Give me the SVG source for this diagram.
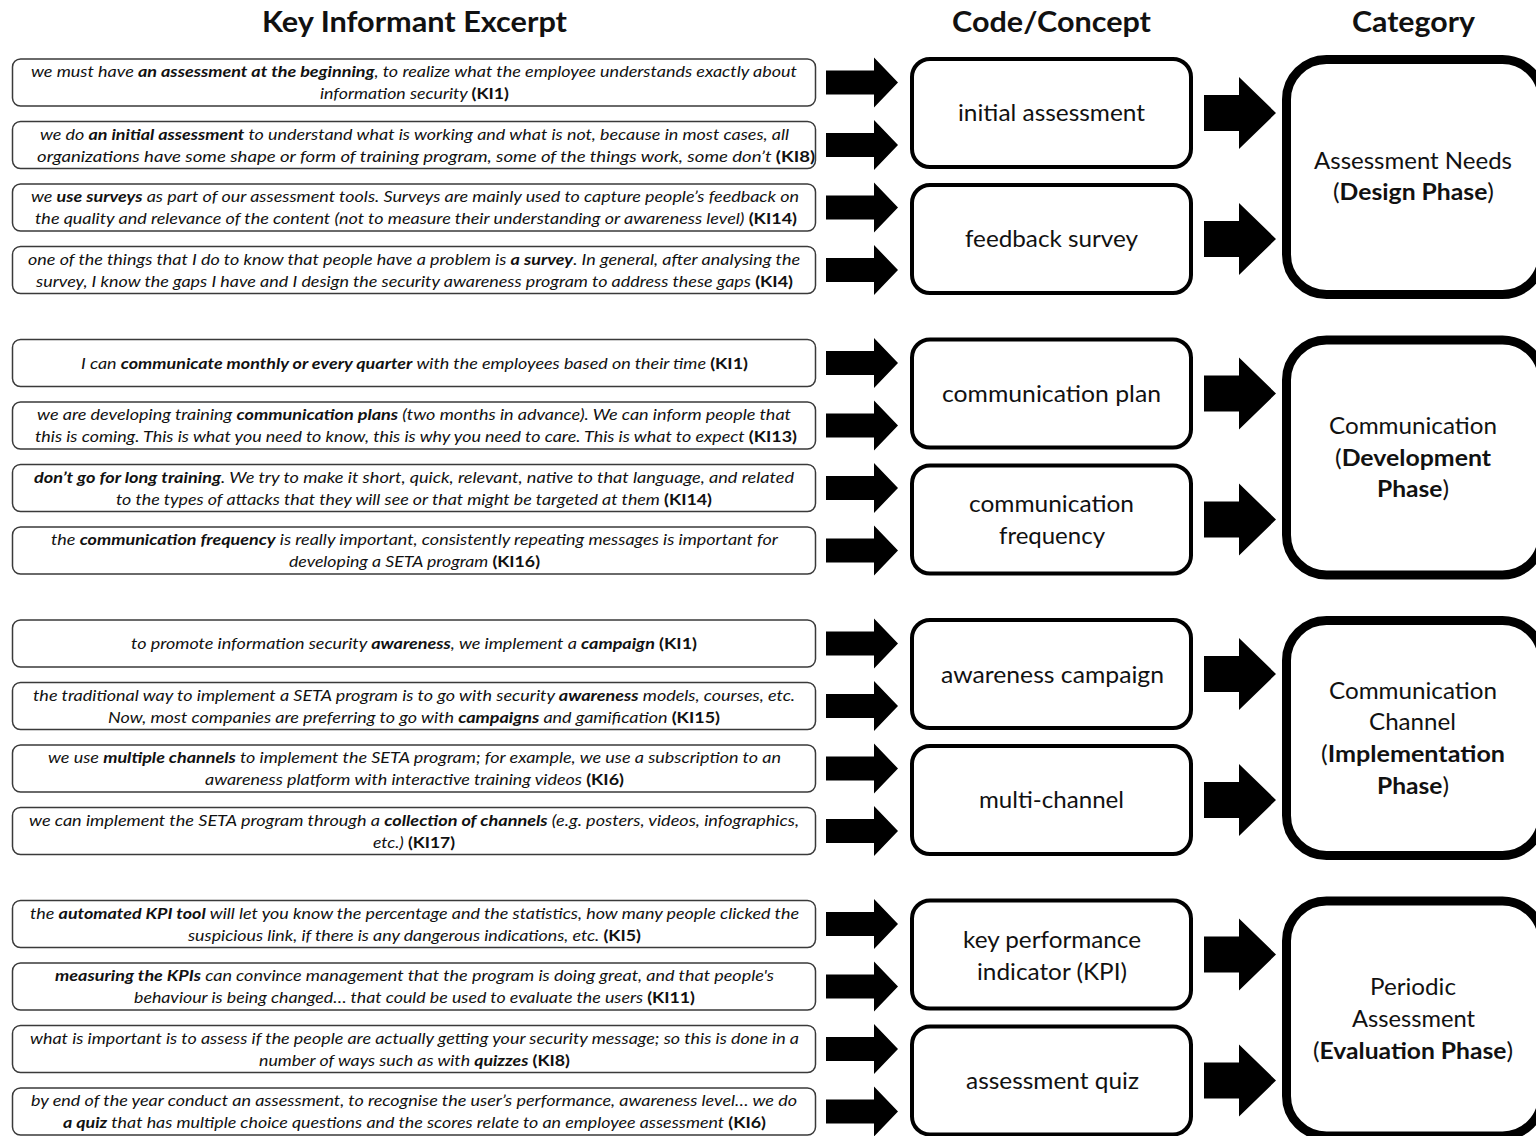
<svg xmlns="http://www.w3.org/2000/svg" width="1536" height="1136" viewBox="0 0 1536 1136">
<style>
text{font-family:Lato,"Open Sans","Liberation Sans",sans-serif;fill:#111}
.h{font-size:29px;font-weight:bold}
.ex{font-size:16px;font-style:italic}
.b{font-weight:bold}
.k{font-weight:bold;font-style:normal}
.cd{font-size:23px}
.ct{font-size:23px}
.ebox{fill:#fff;stroke:#3a3a3a;stroke-width:1.5}
.cbox{fill:#fff;stroke:#000;stroke-width:4}
.gbox{fill:#fff;stroke:#000;stroke-width:9}
.arr{fill:#000}
</style>
<defs>
<path id="sa" d="M -72 -12 H -24 V -25 L 0 0 L -24 25 V 12 H -72 Z"/>
<path id="ba" d="M -72 -18 H -37 V -36 L 0 0 L -37 36 V 18 H -72 Z"/>
</defs>
<rect width="1536" height="1136" fill="#fff"/>
<g id="headers">
<text class="h" x="262" y="32" textLength="305" lengthAdjust="spacingAndGlyphs">Key Informant Excerpt</text>
<text class="h" x="952" y="32" textLength="199" lengthAdjust="spacingAndGlyphs">Code/Concept</text>
<text class="h" x="1352" y="32" textLength="123" lengthAdjust="spacingAndGlyphs">Category</text>
</g>

<!-- Group 1 excerpts -->
<g id="ex1">
<rect class="ebox" x="12.5" y="59" width="803" height="47" rx="8"/>
<text class="ex" x="31" y="77" textLength="766" lengthAdjust="spacingAndGlyphs">we must have <tspan class="b">an assessment at the beginning</tspan>, to realize what the employee understands exactly about</text>
<text class="ex" x="320" y="99" textLength="189" lengthAdjust="spacingAndGlyphs">information security <tspan class="k">(KI1)</tspan></text>
</g>
<g id="ex2">
<rect class="ebox" x="12.5" y="121.5" width="803" height="47" rx="8"/>
<text class="ex" x="40" y="139.5" textLength="749" lengthAdjust="spacingAndGlyphs">we do <tspan class="b">an initial assessment</tspan> to understand what is working and what is not, because in most cases, all</text>
<text class="ex" x="37" y="161.5" textLength="778" lengthAdjust="spacingAndGlyphs">organizations have some shape or form of training program, some of the things work, some don’t <tspan class="k">(KI8)</tspan></text>
</g>
<g id="ex3">
<rect class="ebox" x="12.5" y="184" width="803" height="47" rx="8"/>
<text class="ex" x="31" y="202" textLength="768" lengthAdjust="spacingAndGlyphs">we <tspan class="b">use surveys</tspan> as part of our assessment tools. Surveys are mainly used to capture people’s feedback on</text>
<text class="ex" x="35" y="224" textLength="762" lengthAdjust="spacingAndGlyphs">the quality and relevance of the content (not to measure their understanding or awareness level) <tspan class="k">(KI14)</tspan></text>
</g>
<g id="ex4">
<rect class="ebox" x="12.5" y="246.5" width="803" height="47" rx="8"/>
<text class="ex" x="28" y="264.5" textLength="772" lengthAdjust="spacingAndGlyphs">one of the things that I do to know that people have a problem is <tspan class="b">a survey</tspan>. In general, after analysing the</text>
<text class="ex" x="36" y="286.5" textLength="757" lengthAdjust="spacingAndGlyphs">survey, I know the gaps I have and I design the security awareness program to address these gaps <tspan class="k">(KI4)</tspan></text>
</g>

<!-- Group 2 excerpts -->
<g id="ex5">
<rect class="ebox" x="12.5" y="339.5" width="803" height="47" rx="8"/>
<text class="ex" x="81" y="368.5" textLength="667" lengthAdjust="spacingAndGlyphs">I can <tspan class="b">communicate monthly or every quarter</tspan> with the employees based on their time <tspan class="k">(KI1)</tspan></text>
</g>
<g id="ex6">
<rect class="ebox" x="12.5" y="402" width="803" height="47" rx="8"/>
<text class="ex" x="37" y="420" textLength="754" lengthAdjust="spacingAndGlyphs">we are developing training <tspan class="b">communication plans</tspan> (two months in advance). We can inform people that</text>
<text class="ex" x="35" y="442" textLength="762" lengthAdjust="spacingAndGlyphs">this is coming. This is what you need to know, this is why you need to care. This is what to expect <tspan class="k">(KI13)</tspan></text>
</g>
<g id="ex7">
<rect class="ebox" x="12.5" y="464.5" width="803" height="47" rx="8"/>
<text class="ex" x="34" y="482.5" textLength="760" lengthAdjust="spacingAndGlyphs"><tspan class="b">don’t go for long training</tspan>. We try to make it short, quick, relevant, native to that language, and related</text>
<text class="ex" x="116" y="504.5" textLength="596" lengthAdjust="spacingAndGlyphs">to the types of attacks that they will see or that might be targeted at them <tspan class="k">(KI14)</tspan></text>
</g>
<g id="ex8">
<rect class="ebox" x="12.5" y="527" width="803" height="47" rx="8"/>
<text class="ex" x="51" y="545" textLength="727" lengthAdjust="spacingAndGlyphs">the <tspan class="b">communication frequency</tspan> is really important, consistently repeating messages is important for</text>
<text class="ex" x="289" y="567" textLength="251" lengthAdjust="spacingAndGlyphs">developing a SETA program <tspan class="k">(KI16)</tspan></text>
</g>

<!-- Group 3 excerpts -->
<g id="ex9">
<rect class="ebox" x="12.5" y="620" width="803" height="47" rx="8"/>
<text class="ex" x="131" y="649" textLength="566" lengthAdjust="spacingAndGlyphs">to promote information security <tspan class="b">awareness</tspan>, we implement a <tspan class="b">campaign</tspan> <tspan class="k">(KI1)</tspan></text>
</g>
<g id="ex10">
<rect class="ebox" x="12.5" y="682.5" width="803" height="47" rx="8"/>
<text class="ex" x="33" y="700.5" textLength="762" lengthAdjust="spacingAndGlyphs">the traditional way to implement a SETA program is to go with security <tspan class="b">awareness</tspan> models, courses, etc.</text>
<text class="ex" x="108" y="722.5" textLength="612" lengthAdjust="spacingAndGlyphs">Now, most companies are preferring to go with <tspan class="b">campaigns</tspan> and gamification <tspan class="k">(KI15)</tspan></text>
</g>
<g id="ex11">
<rect class="ebox" x="12.5" y="745" width="803" height="47" rx="8"/>
<text class="ex" x="48" y="763" textLength="733" lengthAdjust="spacingAndGlyphs">we use <tspan class="b">multiple channels</tspan> to implement the SETA program; for example, we use a subscription to an</text>
<text class="ex" x="205" y="785" textLength="419" lengthAdjust="spacingAndGlyphs">awareness platform with interactive training videos <tspan class="k">(KI6)</tspan></text>
</g>
<g id="ex12">
<rect class="ebox" x="12.5" y="807.5" width="803" height="47" rx="8"/>
<text class="ex" x="29" y="825.5" textLength="770" lengthAdjust="spacingAndGlyphs">we can implement the SETA program through a <tspan class="b">collection of channels</tspan> (e.g. posters, videos, infographics,</text>
<text class="ex" x="373" y="847.5" textLength="82" lengthAdjust="spacingAndGlyphs">etc.) <tspan class="k">(KI17)</tspan></text>
</g>

<!-- Group 4 excerpts -->
<g id="ex13">
<rect class="ebox" x="12.5" y="900.5" width="803" height="47" rx="8"/>
<text class="ex" x="30" y="918.5" textLength="769" lengthAdjust="spacingAndGlyphs">the <tspan class="b">automated KPI tool</tspan> will let you know the percentage and the statistics, how many people clicked the</text>
<text class="ex" x="188" y="940.5" textLength="453" lengthAdjust="spacingAndGlyphs">suspicious link, if there is any dangerous indications, etc. <tspan class="k">(KI5)</tspan></text>
</g>
<g id="ex14">
<rect class="ebox" x="12.5" y="963" width="803" height="47" rx="8"/>
<text class="ex" x="55" y="981" textLength="719" lengthAdjust="spacingAndGlyphs"><tspan class="b">measuring the KPIs</tspan> can convince management that the program is doing great, and that people's</text>
<text class="ex" x="134" y="1003" textLength="561" lengthAdjust="spacingAndGlyphs">behaviour is being changed… that could be used to evaluate the users <tspan class="k">(KI11)</tspan></text>
</g>
<g id="ex15">
<rect class="ebox" x="12.5" y="1025.5" width="803" height="47" rx="8"/>
<text class="ex" x="30" y="1043.5" textLength="769" lengthAdjust="spacingAndGlyphs">what is important is to assess if the people are actually getting your security message; so this is done in a</text>
<text class="ex" x="259" y="1065.5" textLength="311" lengthAdjust="spacingAndGlyphs">number of ways such as with <tspan class="b">quizzes</tspan> <tspan class="k">(KI8)</tspan></text>
</g>
<g id="ex16">
<rect class="ebox" x="12.5" y="1088" width="803" height="47" rx="8"/>
<text class="ex" x="31" y="1106" textLength="766" lengthAdjust="spacingAndGlyphs">by end of the year conduct an assessment, to recognise the user’s performance, awareness level… we do</text>
<text class="ex" x="63" y="1128" textLength="703" lengthAdjust="spacingAndGlyphs"><tspan class="b">a quiz</tspan> that has multiple choice questions and the scores relate to an employee assessment <tspan class="k">(KI6)</tspan></text>
</g>

<!-- Code boxes -->
<g id="code-initial-assessment">
<rect class="cbox" x="912" y="59" width="279" height="108" rx="18"/>
<text class="cd" x="958" y="121" textLength="187" lengthAdjust="spacingAndGlyphs">initial assessment</text>
</g>
<g id="code-feedback-survey">
<rect class="cbox" x="912" y="185" width="279" height="108" rx="18"/>
<text class="cd" x="965" y="247" textLength="173" lengthAdjust="spacingAndGlyphs">feedback survey</text>
</g>
<g id="code-communication-plan">
<rect class="cbox" x="912" y="339.5" width="279" height="108" rx="18"/>
<text class="cd" x="942" y="402" textLength="219" lengthAdjust="spacingAndGlyphs">communication plan</text>
</g>
<g id="code-communication-frequency">
<rect class="cbox" x="912" y="465.5" width="279" height="108" rx="18"/>
<text class="cd" x="969" y="512" textLength="165" lengthAdjust="spacingAndGlyphs">communication</text>
<text class="cd" x="999" y="544" textLength="106" lengthAdjust="spacingAndGlyphs">frequency</text>
</g>
<g id="code-awareness-campaign">
<rect class="cbox" x="912" y="620" width="279" height="108" rx="18"/>
<text class="cd" x="941" y="683" textLength="223" lengthAdjust="spacingAndGlyphs">awareness campaign</text>
</g>
<g id="code-multi-channel">
<rect class="cbox" x="912" y="746" width="279" height="108" rx="18"/>
<text class="cd" x="979" y="808" textLength="145" lengthAdjust="spacingAndGlyphs">multi-channel</text>
</g>
<g id="code-kpi">
<rect class="cbox" x="912" y="900.5" width="279" height="108" rx="18"/>
<text class="cd" x="963" y="948" textLength="178" lengthAdjust="spacingAndGlyphs">key performance</text>
<text class="cd" x="977" y="980" textLength="150" lengthAdjust="spacingAndGlyphs">indicator (KPI)</text>
</g>
<g id="code-assessment-quiz">
<rect class="cbox" x="912" y="1026.5" width="279" height="108" rx="18"/>
<text class="cd" x="966" y="1089" textLength="173" lengthAdjust="spacingAndGlyphs">assessment quiz</text>
</g>

<!-- Category boxes -->
<g id="cat-assessment-needs">
<rect class="gbox" x="1286.5" y="59.5" width="256" height="235" rx="40"/>
<text class="ct" x="1314" y="169" textLength="198" lengthAdjust="spacingAndGlyphs">Assessment Needs</text>
<text class="ct" x="1333" y="200" textLength="161" lengthAdjust="spacingAndGlyphs">(<tspan class="b">Design Phase</tspan>)</text>
</g>
<g id="cat-communication">
<rect class="gbox" x="1286.5" y="340" width="256" height="235" rx="40"/>
<text class="ct" x="1329" y="434" textLength="168" lengthAdjust="spacingAndGlyphs">Communication</text>
<text class="ct" x="1335" y="466" textLength="156" lengthAdjust="spacingAndGlyphs">(<tspan class="b">Development</tspan></text>
<text class="ct" x="1377" y="497" textLength="72" lengthAdjust="spacingAndGlyphs"><tspan class="b">Phase</tspan>)</text>
</g>
<g id="cat-communication-channel">
<rect class="gbox" x="1286.5" y="620.5" width="256" height="235" rx="40"/>
<text class="ct" x="1329" y="699" textLength="168" lengthAdjust="spacingAndGlyphs">Communication</text>
<text class="ct" x="1369" y="730" textLength="87" lengthAdjust="spacingAndGlyphs">Channel</text>
<text class="ct" x="1321" y="762" textLength="184" lengthAdjust="spacingAndGlyphs">(<tspan class="b">Implementation</tspan></text>
<text class="ct" x="1377" y="794" textLength="72" lengthAdjust="spacingAndGlyphs"><tspan class="b">Phase</tspan>)</text>
</g>
<g id="cat-periodic-assessment">
<rect class="gbox" x="1286.5" y="901" width="256" height="235" rx="40"/>
<text class="ct" x="1370" y="995" textLength="86" lengthAdjust="spacingAndGlyphs">Periodic</text>
<text class="ct" x="1352" y="1027" textLength="123" lengthAdjust="spacingAndGlyphs">Assessment</text>
<text class="ct" x="1313" y="1059" textLength="200" lengthAdjust="spacingAndGlyphs">(<tspan class="b">Evaluation Phase</tspan>)</text>
</g>

<!-- Connectors -->
<g id="connectors" class="arr">
<use href="#sa" x="898" y="82.5"/>
<use href="#sa" x="898" y="145"/>
<use href="#sa" x="898" y="207.5"/>
<use href="#sa" x="898" y="270"/>
<use href="#sa" x="898" y="363"/>
<use href="#sa" x="898" y="425.5"/>
<use href="#sa" x="898" y="488"/>
<use href="#sa" x="898" y="550.5"/>
<use href="#sa" x="898" y="643.5"/>
<use href="#sa" x="898" y="706"/>
<use href="#sa" x="898" y="768.5"/>
<use href="#sa" x="898" y="831"/>
<use href="#sa" x="898" y="924"/>
<use href="#sa" x="898" y="986.5"/>
<use href="#sa" x="898" y="1049"/>
<use href="#sa" x="898" y="1111.5"/>
<use href="#ba" x="1276" y="113"/>
<use href="#ba" x="1276" y="239"/>
<use href="#ba" x="1276" y="393.5"/>
<use href="#ba" x="1276" y="519.5"/>
<use href="#ba" x="1276" y="674"/>
<use href="#ba" x="1276" y="800"/>
<use href="#ba" x="1276" y="954.5"/>
<use href="#ba" x="1276" y="1080.5"/>
</g>
</svg>
